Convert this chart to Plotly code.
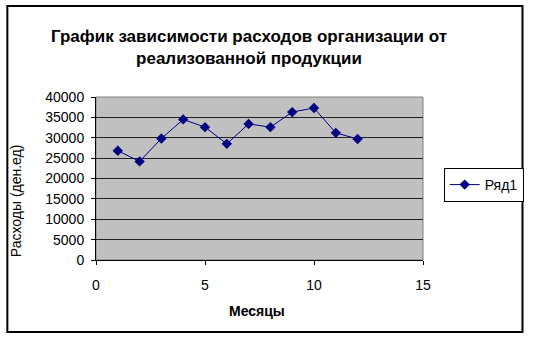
import plotly.graph_objects as go

months = [1, 2, 3, 4, 5, 6, 7, 8, 9, 10, 11, 12]
expenses = [26800, 24200, 29800, 34500, 32600, 28500, 33400, 32600, 36300, 37300, 31200, 29700]
series_name = "Ряд1"
title_text = "График зависимости расходов организации от<br>реализованной продукции"
x_title = "Месяцы"
y_title = "Расходы (ден.ед)"
x_ticks = [0, 5, 10, 15]
y_ticks = [0, 5000, 10000, 15000, 20000, 25000, 30000, 35000, 40000]
y_tick_labels = [str(v) for v in y_ticks]

W, H = 536, 338
L, R, T, B = 96, 428, 97, 260

def px(x):
    return (x - L) / (R - L)

def py(y):
    return (B - y) / (B - T)

FONT = "Liberation Sans, Arial, sans-serif"

fig = go.Figure()
fig.add_trace(go.Scatter(
    x=months, y=expenses, name=series_name, mode="lines+markers",
    line=dict(color="#000080", width=1),
    marker=dict(symbol="diamond", size=8, color="#000080", line=dict(width=0)),
))

fig.update_layout(
    width=W, height=H,
    margin=dict(l=L, r=W - R, t=T, b=H - B, pad=0),
    paper_bgcolor="white", plot_bgcolor="#C0C0C0",
    font=dict(family=FONT, size=14, color="black"),
    showlegend=True,
    legend=dict(x=px(449), y=py(168), xanchor="left", yanchor="top",
                bordercolor="black", borderwidth=1, bgcolor="white",
                font=dict(size=14), itemwidth=30, tracegroupgap=0),
    xaxis=dict(range=[0, 15], tickvals=x_ticks, showgrid=False, zeroline=False,
               showline=True, linecolor="black", linewidth=1,
               ticks="outside", ticklen=4, tickcolor="black",
               ticklabelstandoff=8, tickfont=dict(size=14)),
    yaxis=dict(range=[0, 40000], tickvals=y_ticks, ticktext=y_tick_labels,
               showgrid=True, gridcolor="#222222",
               gridwidth=1, zeroline=False, showline=True, linecolor="black", linewidth=1,
               ticks="outside", ticklen=4, tickcolor="black", ticklabelstandoff=4,
               tickfont=dict(size=14)),
    shapes=[
        dict(type="rect", xref="paper", yref="paper", x0=0, x1=1, y0=0, y1=1,
             line=dict(color="#808080", width=1), layer="below"),
        dict(type="rect", xref="paper", yref="paper",
             x0=px(6), x1=px(529), y0=py(6), y1=py(332),
             line=dict(color="black", width=2)),
    ],
    annotations=[
        dict(text="<b>" + title_text.replace("<br>", "</b><br><b>") + "</b>",
             xref="paper", yref="paper", x=px(251), y=py(47),
             xanchor="center", yanchor="middle", showarrow=False,
             font=dict(size=17, family=FONT)),
        dict(text="<b>" + x_title + "</b>", xref="paper", yref="paper",
             x=px(259), y=py(311), xanchor="center", yanchor="middle",
             showarrow=False, font=dict(size=14, family=FONT)),
        dict(text=y_title, xref="paper", yref="paper", x=px(15), y=py(201),
             xanchor="center", yanchor="middle", textangle=-90,
             showarrow=False, font=dict(size=14, family=FONT)),
    ],
)

fig.write_html("out.html")
